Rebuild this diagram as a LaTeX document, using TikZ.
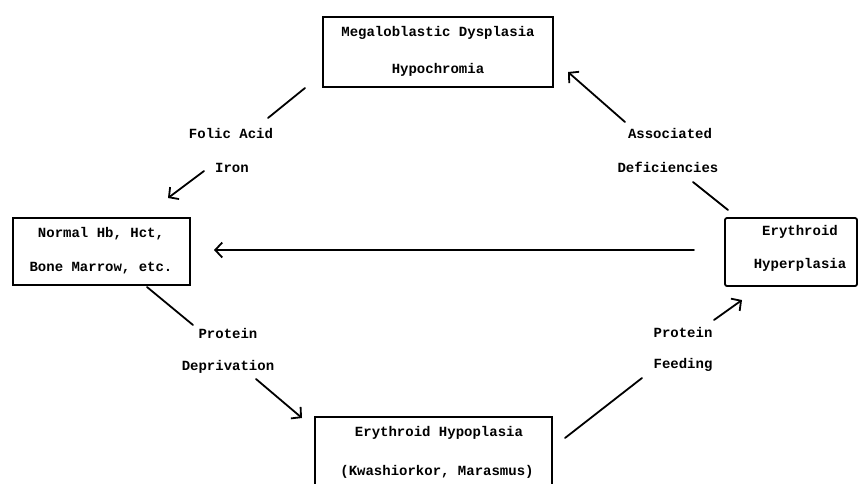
\documentclass[tikz,border=0pt]{standalone}
\usepackage{fontspec}
\setmonofont{Liberation Mono}
\usetikzlibrary{arrows.meta}
\tikzset{
  boxnode/.style={draw, line width=1.8pt, inner sep=0pt, minimum width=#1},
  txt/.style={font=\fontsize{14}{15}\selectfont\ttfamily\bfseries, inner sep=0pt, anchor=center},
  conn/.style={line width=1.8pt, line cap=round},
  arr/.style={conn, -{Straight Barb[length=7pt,width=15pt,line width=1.8pt]}}
}
\begin{document}
\begin{tikzpicture}[x=1pt,y=-1pt]
\useasboundingbox (0,0) rectangle (862,483);
% boxes
\node[boxnode=230, minimum height=70] (T) at (438,52) {};
\node[boxnode=177, minimum height=67] (L) at (101.5,251.5) {};
\node[boxnode=132, minimum height=68, rounded corners=2pt] (R) at (791,252) {};
\node[boxnode=237, minimum height=75] (B) at (433.5,454.5) {};
% box texts
\node[txt] (t1) at (438,33) {Megaloblastic Dysplasia};
\node[txt] (t2) at (438,70) {Hypochromia};
\node[txt] (l1) at (101,234) {Normal Hb, Hct,};
\node[txt] (l2) at (101,268) {Bone Marrow, etc.};
\node[txt] (r1) at (800,232) {Erythroid};
\node[txt] (r2) at (800,265) {Hyperplasia};
\node[txt] (b1) at (439,433) {Erythroid Hypoplasia};
\node[txt] (b2) at (437,472) {(Kwashiorkor, Marasmus)};
% labels
\node[txt] (fa) at (231,133) {Folic Acid};
\node[txt] (ir) at (232,168) {Iron};
\node[txt] (as) at (670,133) {Associated};
\node[txt] (de) at (668,167) {Deficiencies};
\node[txt] (p1) at (228,333) {Protein};
\node[txt] (dp) at (228,367) {Deprivation};
\node[txt] (p2) at (683,332) {Protein};
\node[txt] (fe) at (683,365) {Feeding};
% connector end points
\coordinate (c1a) at (305,88);  \coordinate (c1b) at (268,118);
\coordinate (c2a) at (204,171); \coordinate (c2b) at (168,198);
\coordinate (c3a) at (625,122); \coordinate (c3b) at (568,72);
\coordinate (c4a) at (728,210); \coordinate (c4b) at (693,182);
\coordinate (c5a) at (694,250); \coordinate (c5b) at (214,250);
\coordinate (c6a) at (147,287); \coordinate (c6b) at (193,325);
\coordinate (c7a) at (256,379); \coordinate (c7b) at (302,418);
\coordinate (c8a) at (565,438); \coordinate (c8b) at (642,378);
\coordinate (c9a) at (714,320); \coordinate (c9b) at (742,300);
% connectors
\draw[conn] (c1a) -- (c1b);
\draw[arr] (c2a) -- (c2b);
\draw[arr] (c3a) -- (c3b);
\draw[conn] (c4a) -- (c4b);
\draw[arr] (c5a) -- (c5b);
\draw[conn] (c6a) -- (c6b);
\draw[arr] (c7a) -- (c7b);
\draw[conn] (c8a) -- (c8b);
\draw[arr] (c9a) -- (c9b);
\end{tikzpicture}
\end{document}
